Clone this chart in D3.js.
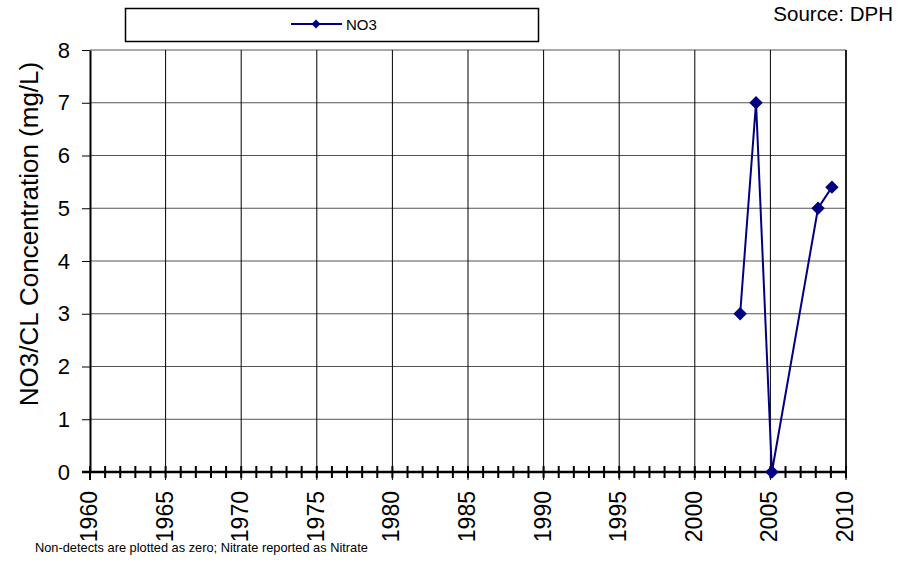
<!DOCTYPE html>
<html lang="en">
<head>
  <meta charset="UTF-8">
  <title>NO3 Concentration</title>
  <script src="https://d3js.org/d3.v7.min.js"></script>
  <style>
    body { margin: 0; background: #fff; font-family: Arial, 'Liberation Sans', sans-serif; }
    svg text { fill: #000; font-family: Arial, 'Liberation Sans', sans-serif; }
  </style>
</head>
<body>
  <div id="chart"></div>
  <script>
    // sample dates (decimal years) and nitrate values
    const years = [2003.0, 2004.05, 2005.1, 2008.15, 2009.07];
    const no3 = [3, 7, 0, 5, 5.4];
    const yTicks = [0, 1, 2, 3, 4, 5, 6, 7, 8];
    const xTicks = d3.range(1960, 2011, 5);

    const W = 919, H = 574;
    const margin = { top: 50, right: 73, bottom: 102, left: 90 };
    const width = W - margin.left - margin.right;
    const height = H - margin.top - margin.bottom;

    const svg = d3.select("#chart").append("svg")
      .attr("width", W).attr("height", H);

    const x = d3.scaleLinear().domain([1960, 2010]).range([margin.left, margin.left + width]);
    const y = d3.scaleLinear().domain([0, 8]).range([margin.top + height, margin.top]);

    // horizontal grid
    svg.append("g").selectAll("line")
      .data(yTicks.slice(1))
      .join("line")
      .attr("x1", x(1960)).attr("x2", x(2010))
      .attr("y1", d => y(d)).attr("y2", d => y(d))
      .attr("stroke", "#555").attr("stroke-width", 1);

    // vertical grid
    svg.append("g").selectAll("line")
      .data(xTicks.slice(1))
      .join("line")
      .attr("x1", d => x(d)).attr("x2", d => x(d))
      .attr("y1", y(8)).attr("y2", y(0) + 8)
      .attr("stroke", "#000").attr("stroke-width", 1);

    // y axis
    const yAxis = svg.append("g")
      .attr("transform", `translate(${x(1960)},0)`)
      .call(d3.axisLeft(y).tickValues(yTicks).tickSize(8).tickSizeOuter(0));
    yAxis.select(".domain").attr("stroke-width", 2);
    yAxis.selectAll(".tick line").attr("stroke-width", 1);
    yAxis.selectAll("text")
      .attr("font-size", 22)
      .attr("x", -20);

    // x axis: thick base line with yearly ticks across it
    svg.append("line")
      .attr("x1", x(1960) - 8).attr("x2", x(2010))
      .attr("y1", y(0)).attr("y2", y(0))
      .attr("stroke", "#000").attr("stroke-width", 2.5);
    svg.append("g").selectAll("line")
      .data(d3.range(1960, 2011))
      .join("line")
      .attr("x1", d => x(d)).attr("x2", d => x(d))
      .attr("y1", y(0) - 6).attr("y2", y(0) + 6)
      .attr("stroke", "#000").attr("stroke-width", 2);
    svg.append("line")
      .attr("x1", x(1960)).attr("x2", x(1960))
      .attr("y1", y(0)).attr("y2", y(0) + 8)
      .attr("stroke", "#000").attr("stroke-width", 2);

    svg.append("g").selectAll("text")
      .data(xTicks)
      .join("text")
      .attr("transform", d => `translate(${x(d) + 7},${y(0) + 19}) rotate(-90)`)
      .attr("text-anchor", "end")
      .attr("font-size", 23)
      .text(d => d);

    // right border
    svg.append("line")
      .attr("x1", x(2010)).attr("x2", x(2010))
      .attr("y1", y(8)).attr("y2", y(0))
      .attr("stroke", "#000").attr("stroke-width", 1.5);

    // y label
    svg.append("text")
      .attr("transform", `translate(38,${(y(0) + y(8)) / 2 - 27}) rotate(-90)`)
      .attr("text-anchor", "middle")
      .attr("font-size", 26)
      .text("NO3/CL Concentration (mg/L)");

    // series
    const pts = years.map((d, i) => [d, no3[i]]);
    svg.append("path")
      .datum(pts)
      .attr("fill", "none")
      .attr("stroke", "#000080")
      .attr("stroke-width", 2)
      .attr("d", d3.line().x(d => x(d[0])).y(d => y(d[1])));

    const diamond = d3.symbol().type(d3.symbolSquare).size(90);
    svg.append("g").selectAll("path")
      .data(pts)
      .join("path")
      .attr("transform", d => `translate(${x(d[0])},${y(d[1])}) rotate(45)`)
      .attr("d", diamond)
      .attr("fill", "#000080");

    // legend
    const lg = svg.append("g");
    lg.append("rect")
      .attr("x", 125.5).attr("y", 8.5).attr("width", 413).attr("height", 33)
      .attr("fill", "#fff").attr("stroke", "#000").attr("stroke-width", 1.5);
    lg.append("line")
      .attr("x1", 291).attr("x2", 342).attr("y1", 24).attr("y2", 24)
      .attr("stroke", "#000080").attr("stroke-width", 2);
    lg.append("path")
      .attr("transform", "translate(316,24) rotate(45)")
      .attr("d", d3.symbol().type(d3.symbolSquare).size(40))
      .attr("fill", "#000080");
    lg.append("text")
      .attr("x", 346).attr("y", 29.5)
      .attr("font-size", 15)
      .text("NO3");

    svg.append("text")
      .attr("x", 893).attr("y", 21)
      .attr("text-anchor", "end")
      .attr("font-size", 20.5)
      .text("Source: DPH");

    svg.append("text")
      .attr("x", 35).attr("y", 552)
      .attr("font-size", 12.8)
      .text("Non-detects are plotted as zero; Nitrate reported as Nitrate");
  </script>
</body>
</html>
